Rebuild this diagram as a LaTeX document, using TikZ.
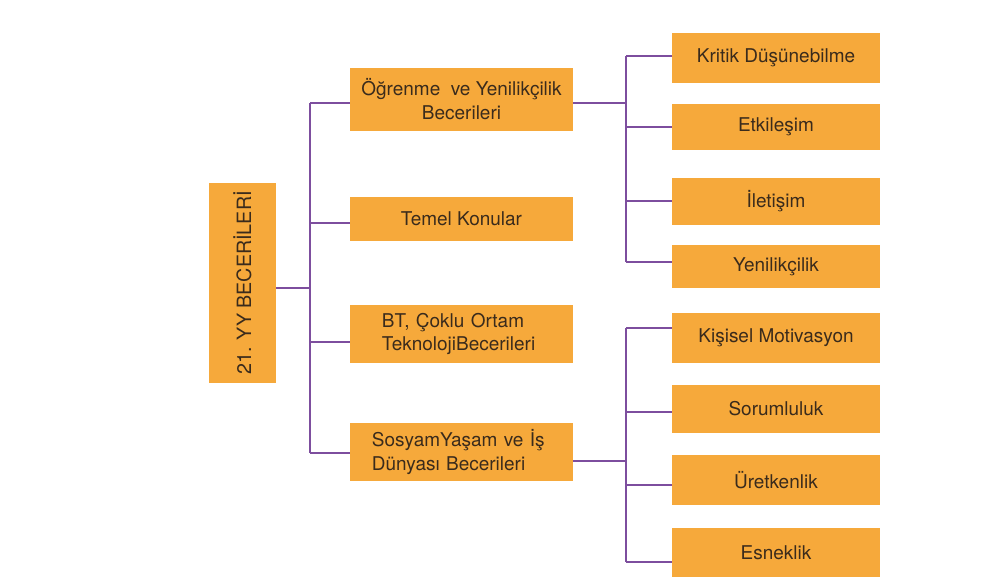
\documentclass[tikz,border=0pt]{standalone}
\usepackage{fontspec}
\setmainfont{TeX Gyre Heros}
\usetikzlibrary{calc}
\definecolor{boxorange}{HTML}{F6A93B}
\definecolor{linepurple}{HTML}{7D4E9E}
\definecolor{boxtext}{HTML}{3A2B1C}
\def\orangenode{\node[fill=boxorange,text=boxtext,inner sep=0pt,font=\fontsize{13.5}{17}\selectfont]}

\begin{document}
\begin{tikzpicture}[x=0.025cm,y=-0.025cm,
  link/.style={draw=linepurple,line width=1.3pt}]
\useasboundingbox (0,0) rectangle (981,580);
% root
\orangenode[rotate=90,minimum width=50mm,minimum height=16.75mm,font=\fontsize{14}{17}\selectfont] (root) at (242.5,283) {21. YY BECERİLERİ};
% first level
\orangenode[minimum width=55.75mm,minimum height=15.75mm,align=center] (ogr) at (461.5,99.5) {Öğrenme\ \ ve Yenilikçilik\\Becerileri};
\orangenode[minimum width=55.75mm,minimum height=11mm] (tem) at (461.5,219) {Temel Konular};
\orangenode[text width=39.75mm,inner xsep=8mm,minimum height=14.5mm,align=left] (bt) at (461.5,334) {BT, Çoklu Ortam\\TeknolojiBecerileri};
\orangenode[text width=44.75mm,inner xsep=5.5mm,minimum height=14.5mm,align=left] (sos) at (461.5,452) {SosyamYaşam ve İş\\Dünyası Becerileri};
% second level
\orangenode[minimum width=52mm,minimum height=12.5mm] (kri) at (776,58) {Kritik Düşünebilme};
\orangenode[minimum width=52mm,minimum height=11.5mm] (etk) at (776,127) {Etkileşim};
\orangenode[minimum width=52mm,minimum height=11.75mm] (ilt) at (776,201.5) {İletişim};
\orangenode[minimum width=52mm,minimum height=10.75mm] (yen) at (776,266.5) {Yenilikçilik};
\orangenode[minimum width=52mm,minimum height=12.5mm] (kis) at (776,338) {Kişisel Motivasyon};
\orangenode[minimum width=52mm,minimum height=12mm] (sor) at (776,409) {Sorumluluk};
\orangenode[minimum width=52mm,minimum height=12.5mm] (ure) at (776,480) {Üretkenlik};
\orangenode[minimum width=52mm,minimum height=12.25mm] (esn) at (776,552.5) {Esneklik};
% connectors
\foreach \n/\y in {ogr/103,tem/223,bt/342,sos/453}{
  \coordinate (j\n) at (310,\y);
  \draw[link] (j\n) -- (j\n -| \n.west);
}
\draw[link] (jogr) -- (jsos);
\coordinate (jroot) at (310,288);
\draw[link] (jroot -| root.south) -- (jroot);
\foreach \n/\y in {kri/56,etk/127,ilt/201,yen/262,kis/328,sor/412,ure/485,esn/562}{
  \coordinate (j\n) at (626,\y);
  \draw[link] (j\n) -- (j\n -| \n.west);
}
\draw[link] (jkri) -- (jyen);
\draw[link] (jkis) -- (jesn);
\coordinate (rogr) at (626,103);
\coordinate (rsos) at (626,461);
\draw[link] (rogr -| ogr.east) -- (rogr);
\draw[link] (rsos -| sos.east) -- (rsos);
\end{tikzpicture}
\end{document}
